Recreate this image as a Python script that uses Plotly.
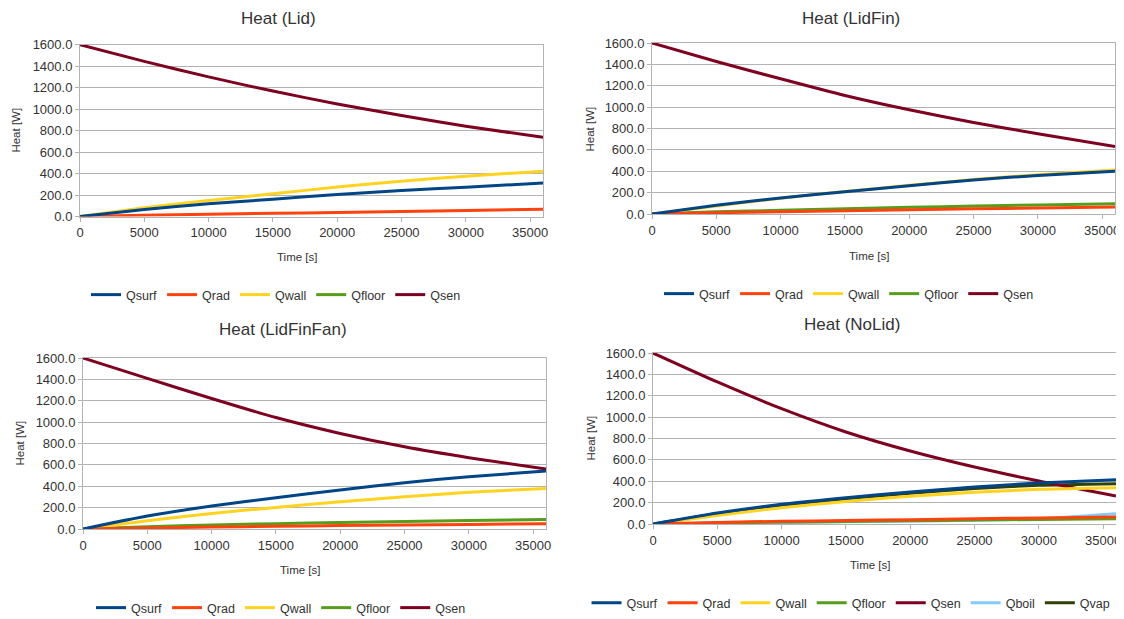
import plotly.graph_objects as go

time_s = [0, 5000, 10000, 15000, 20000, 25000, 30000, 36000]
series_names = ["Qsurf", "Qrad", "Qwall", "Qfloor", "Qsen", "Qboil", "Qvap"]
colors = {"Qsurf": "#004586", "Qrad": "#ff420e", "Qwall": "#ffd320", "Qfloor": "#579d1c",
          "Qsen": "#7e0021", "Qboil": "#83caff", "Qvap": "#314004"}

# Heat (Lid)
lid_qsurf = [0, 65, 118, 161, 205, 242, 273, 311]
lid_qrad = [0, 12, 22, 30, 37, 47, 56, 68]
lid_qwall = [0, 81, 149, 211, 275, 329, 376, 422]
lid_qfloor = [None] * 8
lid_qsen = [1600, 1445, 1300, 1168, 1048, 940, 840, 737]

# Heat (LidFin)
lidfin_qsurf = [0, 81, 150, 209, 265, 318, 361, 399]
lidfin_qrad = [0, 12, 22, 31, 40, 48, 56, 65]
lidfin_qwall = [0, 75, 148, 210, 268, 322, 368, 412]
lidfin_qfloor = [0, 20, 34, 49, 62, 74, 85, 97]
lidfin_qsen = [1600, 1427, 1265, 1109, 975, 857, 751, 632]

# Heat (LidFinFan)
lidfinfan_qsurf = [0, 121, 215, 293, 364, 433, 489, 542]
lidfinfan_qrad = [0, 10, 18, 25, 32, 38, 43, 50]
lidfinfan_qwall = [0, 78, 146, 202, 255, 302, 343, 380]
lidfinfan_qfloor = [0, 22, 38, 50, 60, 71, 80, 90]
lidfinfan_qsen = [1600, 1410, 1221, 1043, 894, 769, 667, 561]

# Heat (NoLid)
nolid_qsurf = [0, 103, 184, 246, 299, 346, 384, 415]
nolid_qrad = [0, 15, 25, 33, 40, 49, 57, 66]
nolid_qwall = [0, 80, 153, 210, 259, 296, 324, 340]
nolid_qfloor = [0, 10, 18, 24, 30, 37, 43, 50]
nolid_qsen = [1600, 1329, 1079, 861, 683, 533, 402, 262]
nolid_qboil = [0, 6, 13, 20, 27, 36, 50, 97]
nolid_qvap = [0, 97, 175, 236, 287, 332, 362, 377]

panels = [
    ("Heat (Lid)", {"Qsurf": lid_qsurf, "Qrad": lid_qrad, "Qwall": lid_qwall,
                    "Qfloor": lid_qfloor, "Qsen": lid_qsen}),
    ("Heat (LidFin)", {"Qsurf": lidfin_qsurf, "Qrad": lidfin_qrad, "Qwall": lidfin_qwall,
                       "Qfloor": lidfin_qfloor, "Qsen": lidfin_qsen}),
    ("Heat (LidFinFan)", {"Qsurf": lidfinfan_qsurf, "Qrad": lidfinfan_qrad, "Qwall": lidfinfan_qwall,
                          "Qfloor": lidfinfan_qfloor, "Qsen": lidfinfan_qsen}),
    ("Heat (NoLid)", {"Qsurf": nolid_qsurf, "Qrad": nolid_qrad, "Qwall": nolid_qwall,
                      "Qfloor": nolid_qfloor, "Qsen": nolid_qsen, "Qboil": nolid_qboil,
                      "Qvap": nolid_qvap}),
]

# page offset of the plot div (browser body margin)
OFF = 8
W, H = 1124 - OFF, 619 - OFF
# plot areas in screen pixels: (x0, x1, ytop, ybottom)
areas = [(80, 543, 44.7, 216.5), (652, 1115, 43, 214), (83, 546, 358, 529), (653, 1116, 353, 524)]
title_pos = [(278, 8, "top"), (851, 8, "top"), (283, 329, "middle"), (852, 324, "middle")]
xtitle_pos = [(297, 257), (869, 256), (300, 570), (870, 565)]
ytitle_x = [16, 589, 19, 590]
legend_pos = [(276, 295), (849, 294), (281, 608), (851, 603)]

def px(x):
    return (x - OFF) / W

def py(y):
    return 1 - (y - OFF) / H

fig = go.Figure()
font_fam = "Liberation Sans, Arial, sans-serif"
annotations = []
for i, (title, data) in enumerate(panels):
    n = "" if i == 0 else str(i + 1)
    leg = "legend" if i == 0 else "legend" + str(i + 1)
    # first series drawn on top: add traces in reverse, legend reversed back
    for name in reversed(series_names):
        if name not in data:
            continue
        fig.add_trace(go.Scatter(
            x=time_s, y=data[name], mode="lines", name=name,
            line=dict(color=colors[name], width=3, shape="spline", smoothing=0.6),
            xaxis="x" + n, yaxis="y" + n, legend=leg, showlegend=True))
    x0, x1, yt, yb = areas[i]
    axis_common = dict(showline=True, linecolor="#b3b3b3", linewidth=1, mirror=True,
                       gridcolor="#b3b3b3", gridwidth=1, zeroline=False,
                       ticks="outside", ticklen=4, tickcolor="#b3b3b3", automargin=False,
                       tickfont=dict(family=font_fam, size=13, color="#333333"))
    fig.layout["xaxis" + n] = dict(axis_common, domain=[px(x0), px(x1)], range=[0, 36000],
                                   tickvals=[0, 5000, 10000, 15000, 20000, 25000, 30000, 35000],
                                   ticktext=["0", "5000", "10000", "15000", "20000", "25000", "30000", "35000"],
                                   anchor="y" + n, showgrid=False)
    fig.layout["yaxis" + n] = dict(axis_common, domain=[py(yb), py(yt)], range=[0, 1600],
                                   dtick=200, tickformat=".1f", anchor="x" + n)
    lx, ly = legend_pos[i]
    fig.layout[leg] = dict(orientation="h", x=px(lx), y=py(ly), xanchor="center", yanchor="middle",
                           font=dict(family=font_fam, size=12.5, color="#333333"),
                           bgcolor="rgba(0,0,0,0)", itemwidth=30, tracegroupgap=0,
                           traceorder="reversed")
    tx, ty, tanchor = title_pos[i]
    annotations.append(dict(text=title, x=px(tx), y=py(ty), xref="paper", yref="paper",
                            showarrow=False, xanchor="center", yanchor=tanchor, borderpad=0,
                            font=dict(family=font_fam, size=17, color="#333333")))
    ax, ay = xtitle_pos[i]
    annotations.append(dict(text="Time [s]", x=px(ax), y=py(ay), xref="paper", yref="paper",
                            showarrow=False, xanchor="center", yanchor="middle",
                            font=dict(family=font_fam, size=11.5, color="#333333")))
    annotations.append(dict(text="Heat [W]", x=px(ytitle_x[i]), y=py((yt + yb) / 2),
                            xref="paper", yref="paper", showarrow=False, textangle=-90,
                            xanchor="center", yanchor="middle",
                            font=dict(family=font_fam, size=11.5, color="#333333")))

fig.update_layout(width=W, height=H, margin=dict(l=0, r=0, t=0, b=0, autoexpand=False),
                  paper_bgcolor="white", plot_bgcolor="white",
                  annotations=annotations, hovermode=False)
fig.write_html("out.html")
